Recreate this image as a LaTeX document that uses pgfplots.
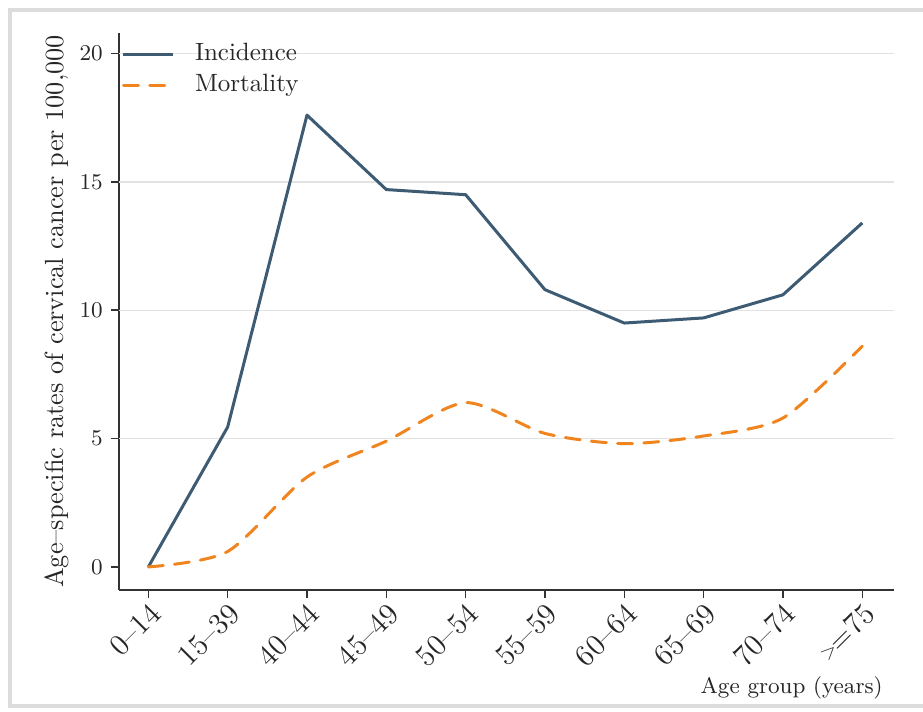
\documentclass[border=0pt]{standalone}
\usepackage{pgfplots}
\pgfplotsset{compat=1.18}
\definecolor{incid}{HTML}{3E5B74}
\definecolor{mort}{HTML}{F0841F}
\definecolor{gridc}{HTML}{E2E2E2}
\definecolor{framec}{HTML}{DCDCDC}
\definecolor{axc}{HTML}{333333}
\begin{document}
\begin{tikzpicture}
\useasboundingbox (-47.6pt,-48.4pt) rectangle (321.6pt,236pt);
\draw[framec, line width=1.6pt] (330pt,232pt) -- (-43.6pt,232pt) -- (-43.6pt,-46.4pt) -- (330pt,-46.4pt);
\begin{axis}[
  at={(0,0)}, anchor=south west,
  scale only axis, width=310pt, height=222.8pt,
  xmin=-0.37, xmax=9.4, ymin=-0.9, ymax=20.8,
  axis x line*=bottom, axis y line*=left,
  axis line style={axc, line width=0.6pt, -},
  tick style={axc, line width=0.6pt},
  tick align=outside, major tick length=3pt,
  xtick={0,1,2,3,4,5,6,7,8,9},
  xticklabels={0--14,15--39,40--44,45--49,50--54,55--59,60--64,65--69,70--74,{\raisebox{0.1em}{\scalebox{0.7}{>}}\kern-0.05em=75}},
  x tick label style={rotate=45, anchor=north east, font=\fontsize{12}{14}\selectfont, inner sep=1pt, text=black!85},
  ytick={0,5,10,15,20},
  y tick label style={font=\fontsize{9.5}{11}\selectfont, text=black!85},
  extra y ticks={5,10,15,20},
  extra y tick labels={},
  extra y tick style={ymajorgrids=true, major tick length=0pt},
  major grid style={gridc, line width=0.5pt},
  ylabel={Age--specific rates of cervical cancer per 100,000},
  ylabel style={at={(axis description cs:-0.08,0.5)}, anchor=center, font=\fontsize{10.5}{12}\selectfont, text=black!85},
  xlabel={Age group (years)},
  xlabel style={at={(axis description cs:1,0)}, anchor=north east, xshift=-1pt, yshift=-31pt, font=\small, text=black!85},
  legend style={at={(rel axis cs:0,1)}, anchor=north west, draw=none, fill=none, font=\normalsize, yshift=-1pt, row sep=0pt, inner sep=1pt, text=black!85},
  legend cell align=left,
  legend image code/.code={\draw[#1] (0pt,0pt) -- (20pt,0pt); \path (26pt,0pt);},
]
\addplot[incid, line width=1.2pt, line join=round] coordinates {
(0,0) (1,5.45) (2,17.6) (3,14.7) (4,14.5) (5,10.8) (6,9.5) (7,9.7) (8,10.6) (9,13.4)
};
\addlegendentry{Incidence}
\addplot[mort, line width=1.2pt, smooth, tension=0.45, dash pattern=on 6pt off 4.5pt, line cap=round] coordinates {
(0,0) (1,0.6) (2,3.5) (3,4.9) (4,6.4) (5,5.2) (6,4.8) (7,5.1) (8,5.8) (9,8.6)
};
\addlegendentry{Mortality}
\end{axis}
\end{tikzpicture}
\end{document}
